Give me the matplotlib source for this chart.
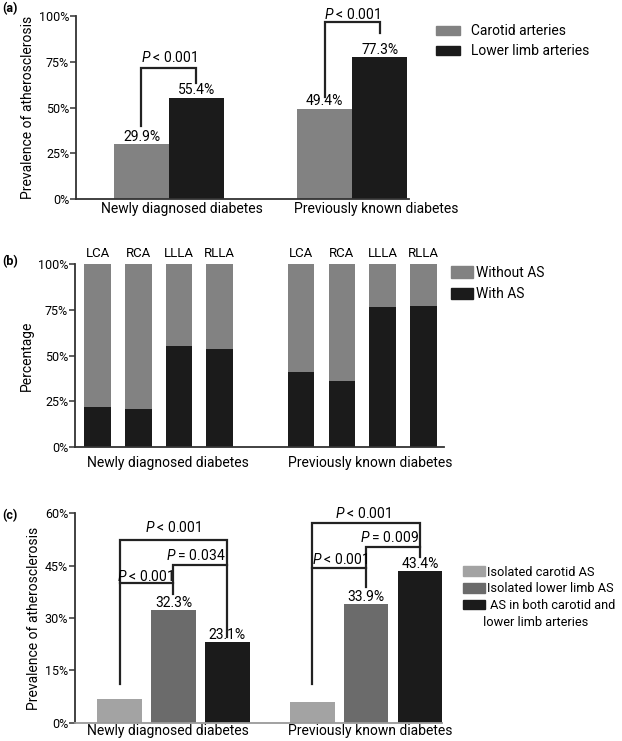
import numpy as np
import matplotlib
matplotlib.use("Agg")
from matplotlib import pyplot as plt
from matplotlib.patches import Patch

plt.rcParams["font.family"] = ["Roboto", "DejaVu Sans"]
plt.rcParams["mathtext.fontset"] = "custom"
plt.rcParams["mathtext.it"] = "Roboto:italic"
plt.rcParams["mathtext.rm"] = "Roboto"

# panel (a)
groups = ["Newly diagnosed diabetes", "Previously known diabetes"]
a_series = ["Carotid arteries", "Lower limb arteries"]
a_carotid = [29.9, 49.4]
a_lowerlimb = [55.4, 77.3]

# panel (b)
b_sites = ["LCA", "RCA", "LLLA", "RLLA"]
b_with_new = [22.0, 21.0, 55.3, 53.7]
b_with_prev = [40.9, 36.4, 76.5, 76.9]

# panel (c)
c_series = ["Isolated carotid AS", "Isolated lower limb AS", " AS in both carotid and"]
c_series_2nd = " lower limb arteries"
c_carotid = [6.8, 6.0]
c_lowerlimb = [32.3, 33.9]
c_both = [23.1, 43.4]

GRAY = "#828282"
BLACK = "#1b1b1b"
FS = 10
TICKFS = 9


def style_axes(ax, ymax, step, bottom_color="#333333"):
    for s in ["top", "right"]:
        ax.spines[s].set_visible(False)
    ax.spines["left"].set_linewidth(1.3)
    ax.spines["left"].set_color("#333333")
    ax.spines["bottom"].set_linewidth(1.3)
    ax.spines["bottom"].set_color(bottom_color)
    ax.set_ylim(0, ymax)
    ax.set_yticks(np.arange(0, ymax + 1, step))
    ax.set_yticklabels([f"{int(t)}%" for t in np.arange(0, ymax + 1, step)], fontsize=TICKFS)
    ax.tick_params(axis="y", length=4, width=1.1, color="#333333", pad=1)
    ax.tick_params(axis="x", length=0, labelsize=FS)


def bracket(ax, pts):
    xs, ys = zip(*pts)
    ax.plot(xs, ys, color="#222222", lw=1.6, solid_joinstyle="miter", clip_on=False)


def ptext(ax, x, y, s):
    ax.text(x, y, s, ha="center", va="center", fontsize=FS, clip_on=False)


fig = plt.figure(figsize=(6.22, 7.41), dpi=100)

# ---------------- (a)
ax = fig.add_axes([0.1222, 0.7310, 0.5349, 0.2478])
xa = np.array([0.0, 3.33])
ax.bar(xa, a_carotid, width=1.0, color=GRAY)
ax.bar(xa + 1, a_lowerlimb, width=1.0, color=BLACK)
for x, v in zip(list(xa) + list(xa + 1), a_carotid + a_lowerlimb):
    ax.text(x, v + 0.3, f"{v}%", ha="center", va="bottom", fontsize=FS)
ax.set_xlim(-1.19, 4.858)
style_axes(ax, 100, 25)
ax.set_xticks([0.74, 4.26])
ax.set_xticklabels(groups)
ax.tick_params(axis="x", pad=2)
ax.set_ylabel("Prevalence of atherosclerosis", fontsize=FS, labelpad=3)
bracket(ax, [(0, 39.9), (0, 71.7), (1, 71.7), (1, 63.2)])
ptext(ax, 0.5, 77.3, r"$P$ < 0.001")
bracket(ax, [(3.33, 55.9), (3.33, 96.4), (4.33, 96.4), (4.33, 90.4)])
ptext(ax, 3.83, 100.9, r"$P$ < 0.001")
ax.legend(handles=[Patch(color=GRAY), Patch(color=BLACK)], labels=a_series,
          loc="upper left", bbox_to_anchor=(1.065, 0.985), frameon=False,
          fontsize=FS, handlelength=1.75, handleheight=0.65, handletextpad=0.75,
          labelspacing=0.45, borderaxespad=0)
fig.text(0.003, 0.988, "(a)", fontsize=9, fontweight="bold", va="center")

# ---------------- (b)
ax = fig.add_axes([0.1206, 0.3964, 0.5932, 0.2474])
xb = np.array([0, 1, 2, 3, 5, 6, 7, 8])
with_as = np.array(b_with_new + b_with_prev)
ax.bar(xb, with_as, width=0.655, color=BLACK)
ax.bar(xb, 100 - with_as, bottom=with_as, width=0.655, color=GRAY)
for x, s in zip(xb, b_sites + b_sites):
    ax.text(x, 105.8, s, ha="center", va="center", fontsize=9.5, clip_on=False)
ax.set_xlim(-0.558, 8.51)
style_axes(ax, 100, 25)
ax.set_xticks([1.73, 6.69])
ax.set_xticklabels(groups)
ax.tick_params(axis="x", pad=6)
ax.set_ylabel("Percentage", fontsize=FS, labelpad=3)
ax.legend(handles=[Patch(color=GRAY), Patch(color=BLACK)], labels=["Without AS", "With AS"],
          loc="upper left", bbox_to_anchor=(1.003, 1.02), frameon=False,
          fontsize=FS, handlelength=1.6, handleheight=0.9, handletextpad=0.2,
          labelspacing=0.55, borderaxespad=0)
fig.text(0.003, 0.647, "(b)", fontsize=9, fontweight="bold", va="center")

# ---------------- (c)
ax = fig.add_axes([0.1206, 0.0247, 0.590, 0.2826])
xc = np.array([0.0, 3.58])
ax.bar(xc, c_carotid, width=0.827, color="#a3a3a3")
ax.bar(xc + 1, c_lowerlimb, width=0.827, color="#6b6b6b")
ax.bar(xc + 2, c_both, width=0.827, color=BLACK)
for x, v in zip(list(xc + 1) + list(xc + 2), c_lowerlimb + c_both):
    ax.text(x, v + 0.1, f"{v}%", ha="center", va="bottom", fontsize=FS)
ax.set_xlim(-0.83, 5.99)
style_axes(ax, 60, 15, bottom_color="#9a9a9a")
ax.set_xticks([0.90, 4.65])
ax.set_xticklabels(groups)
ax.tick_params(axis="x", pad=1)
ax.set_ylabel("Prevalence of atherosclerosis", fontsize=FS, labelpad=3)
# newly diagnosed
bracket(ax, [(0, 11.1), (0, 52.4), (2, 52.4), (2, 24.6)])
bracket(ax, [(0, 40.1), (1, 40.1)])
bracket(ax, [(1, 36.9), (1, 45.2), (2, 45.2)])
ptext(ax, 0.99, 55.9, r"$P$ < 0.001")
ptext(ax, 0.47, 41.9, r"$P$ < 0.001")
ptext(ax, 1.42, 47.8, r"$P$ = 0.034")
# previously known
bracket(ax, [(3.58, 11.1), (3.58, 57.3), (5.58, 57.3), (5.58, 47.4)])
bracket(ax, [(3.58, 44.2), (4.58, 44.2)])
bracket(ax, [(4.58, 38.8), (4.58, 50.4), (5.58, 50.4)])
ptext(ax, 4.53, 60.0, r"$P$ < 0.001")
ptext(ax, 4.09, 46.8, r"$P$ < 0.001")
ptext(ax, 5.02, 53.2, r"$P$ = 0.009")
leg = ax.legend(handles=[Patch(color="#a3a3a3"), Patch(color="#6b6b6b"), Patch(color=BLACK)],
                labels=c_series, loc="upper left", bbox_to_anchor=(1.042, 0.775), frameon=False,
                fontsize=9.2, handlelength=1.75, handleheight=0.75, handletextpad=0.15,
                labelspacing=0.3, borderaxespad=0)
fig.text(480 / 622, 1 - 622 / 741, c_series_2nd, fontsize=9.2, va="center", ha="left")
fig.text(0.003, 0.304, "(c)", fontsize=9, fontweight="bold", va="center")

fig.savefig("out.png", dpi=100)
